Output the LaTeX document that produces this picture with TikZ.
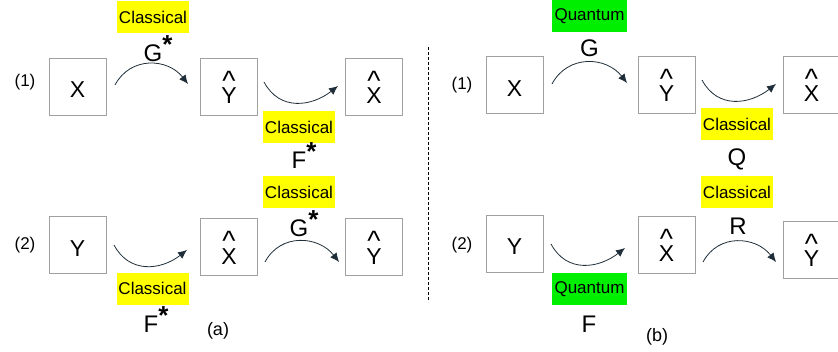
\documentclass[tikz,border=0pt]{standalone}
\usepackage{fontspec}
\setmainfont{Liberation Sans}
\usetikzlibrary{arrows.meta}
\definecolor{arrcol}{HTML}{1E2D38}
\definecolor{boxgray}{HTML}{A0A0A0}
\definecolor{qgreen}{HTML}{00EE00}
\definecolor{cyellow}{HTML}{FFFF00}
\newsavebox{\hatletterbox}
\newcommand{\hatted}[1]{\sbox{\hatletterbox}{#1}\rlap{\hbox to \wd\hatletterbox{\hss\raisebox{13pt}{\fontsize{28}{28}\selectfont\textasciicircum}\hss}}\usebox{\hatletterbox}}
\newcommand{\starred}[1]{#1\rlap{\raisebox{8pt}{\fontsize{26}{26}\selectfont\bfseries *}}}
\tikzset{
  varbox/.style={draw=boxgray, line width=0.9pt, minimum width=57pt, minimum height=57pt, inner sep=0pt, text height=23pt, text depth=0pt, font=\fontsize{23}{25}\selectfont},
  hatbox/.style={varbox, text height=34pt},
  classtag/.style={fill=cyellow, minimum width=72pt, minimum height=32pt, inner sep=0pt, font=\fontsize{17}{19}\selectfont},
  quanttag/.style={fill=qgreen, minimum width=75pt, minimum height=32pt, inner sep=0pt, font=\fontsize{17}{19}\selectfont},
  oplabel/.style={anchor=base, inner sep=0pt, font=\fontsize{24}{26}\selectfont},
  rowlabel/.style={inner sep=0pt, font=\fontsize{17}{19}\selectfont},
  panellabel/.style={inner sep=0pt, font=\fontsize{18}{20}\selectfont},
  arr/.style={draw=arrcol, line width=0.8pt, -{Latex[length=9pt,width=8pt]}},
}
\begin{document}
\begin{tikzpicture}[x=1pt,y=1pt]
\useasboundingbox (0,0) rectangle (838,351);
% ---------- panel (a) ----------
\node[rowlabel] (la1) at (25,269) {(1)};
\node[rowlabel] (la2) at (25,106) {(2)};
\node[varbox] (aX1) at (77.5,264.5) {X};
\node[hatbox] (aY1) at (229,264.5) {\hatted{Y}};
\node[hatbox] (aXh1) at (374,264.5) {\hatted{X}};
\node[varbox] (aY2) at (77.5,106.5) {Y};
\node[hatbox] (aXh2) at (229,104) {\hatted{X}};
\node[hatbox] (aYh2) at (374,104) {\hatted{Y}};
\node[classtag] (ac1) at (153,334) {Classical};
\node[oplabel] (aG1) at (153,289.5) {\starred{G}};
\node[classtag] (ac2) at (299,223.5) {Classical};
\node[oplabel] (aF1) at (299,182) {\starred{F}};
\node[classtag] (ac3) at (152.5,62.5) {Classical};
\node[oplabel] (aF2) at (151,19) {\starred{F}};
\node[classtag] (ac4) at (299,158.5) {Classical};
\node[oplabel] (aG2) at (299,114.5) {\starred{G}};
\node[panellabel] (pa) at (218,20) {(a)};
\coordinate (a1s) at (115,266);
\coordinate (a1e) at (188,267);
\coordinate (a2s) at (264,269);
\coordinate (a2e) at (338,265);
\coordinate (a3s) at (114,106);
\coordinate (a3e) at (187,101);
\coordinate (a4s) at (265,89);
\coordinate (a4e) at (339,89);
\draw[arr] (a1s) to[out=62,in=128,looseness=1.15] (a1e);
\draw[arr] (a2s) to[out=-62,in=-142,looseness=1.15] (a2e);
\draw[arr] (a3s) to[out=-62,in=-142,looseness=1.15] (a3e);
\draw[arr] (a4s) to[out=62,in=128,looseness=1.15] (a4e);
% ---------- separator ----------
\coordinate (d1) at (428,304);
\coordinate (d2) at (428,49);
\draw[line width=0.8pt, dash pattern=on 3pt off 2pt] (d1) -- (d2);
% ---------- panel (b) ----------
\node[rowlabel] (lb1) at (462,266) {(1)};
\node[rowlabel] (lb2) at (462,106) {(2)};
\node[varbox] (bX1) at (514.5,266) {X};
\node[hatbox] (bY1) at (666.5,266) {\hatted{Y}};
\node[hatbox] (bXh1) at (811.5,266) {\hatted{X}};
\node[varbox] (bY2) at (514.5,107.5) {Y};
\node[hatbox] (bXh2) at (666.5,106.5) {\hatted{X}};
\node[hatbox] (bYh2) at (811.5,101.5) {\hatted{Y}};
\node[quanttag] (bq1) at (589.5,335) {Quantum};
\node[oplabel] (bG) at (589.5,294.5) {G};
\node[classtag] (bc1) at (737,227) {Classical};
\node[oplabel] (bQ) at (737,185.5) {Q};
\node[classtag] (bc2) at (737,159) {Classical};
\node[oplabel] (bR) at (738,116) {R};
\node[quanttag] (bq2) at (589.5,62) {Quantum};
\node[oplabel] (bF) at (589,19) {F};
\node[panellabel] (pb) at (657,14) {(b)};
\coordinate (b1s) at (552,267);
\coordinate (b1e) at (627,268);
\coordinate (b2s) at (702,271);
\coordinate (b2e) at (776,267);
\coordinate (b3s) at (551,107);
\coordinate (b3e) at (625,103);
\coordinate (b4s) at (703,89);
\coordinate (b4e) at (776,89);
\draw[arr] (b1s) to[out=62,in=128,looseness=1.15] (b1e);
\draw[arr] (b2s) to[out=-62,in=-142,looseness=1.15] (b2e);
\draw[arr] (b3s) to[out=-62,in=-142,looseness=1.15] (b3e);
\draw[arr] (b4s) to[out=62,in=128,looseness=1.15] (b4e);
\end{tikzpicture}
\end{document}
